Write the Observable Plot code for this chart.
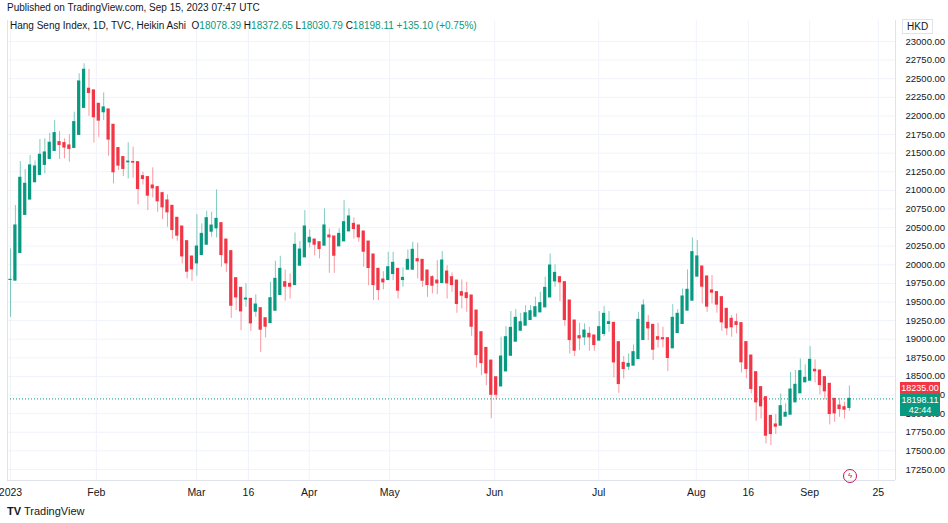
<!DOCTYPE html>
<html><head><meta charset="utf-8">
<script src="https://cdn.jsdelivr.net/npm/d3@7"></script>
<script src="https://cdn.jsdelivr.net/npm/@observablehq/plot@0.6"></script>
<style>
body{margin:0;background:#fff;font-family:"Liberation Sans",Arial,sans-serif;color:#131722}
#wrap{position:relative;width:948px;height:523px;overflow:hidden}
.abs{position:absolute;white-space:nowrap}
</style></head><body><div id="wrap"></div>
<script>
const O=[19797,19788,20160,20671,20877,21110,21208,21343,21423,21531,21647,21634,21602,21571,21746,22109,22364,22342,22162,22050,22086,21880,21567,21446,21378,21380,21378,21190,21177,21064,21042,20961,20863,20791,20630,20513,20316,20110,20020,20132,20271,20446,20491,20558,20338,20182,19819,19689,19535,19541,19371,19416,19281,19218,19384,19595,19765,19743,19729,19989,20101,20302,20338,20302,20258,20392,20379,20249,20316,20450,20549,20527,20446,20311,20137,19944,19801,19796,19877,19944,19796,19935,19935,20074,20065,19922,19832,19787,19756,19908,19832,19787,19631,19617,19586,19384,19093,18882,18712,18488,18367,18569,18779,18968,19115,19183,19259,19304,19362,19429,19563,19778,19832,19765,19519,19250,19040,19026,19071,19049,18982,19071,19206,19219,18959,18681,18632,18646,18735,18990,19219,19192,19026,19013,19013,18879,19085,19206,19385,19519,19842,19976,19842,19654,19632,19564,19407,19273,19228,19215,18960,18780,18556,18355,18220,17969,17853,17839,17960,17987,18153,18274,18422,18444,18588,18579,18489,18400,18198,18108,18086,18078];
const H=[20214,20796,21387,21280,21468,21396,21683,21692,21768,21938,21790,21692,21746,22050,22566,22700,22624,22342,22162,22310,22086,21880,21567,21446,21638,21580,21378,21244,21177,21302,21042,20975,20939,20791,20630,20513,20316,20110,20674,20549,20719,20706,21006,20558,20338,20182,19819,19689,19743,19541,19595,19416,19281,19765,20047,20114,19931,19877,20428,20312,20728,20468,20338,20302,20751,20482,20379,20482,20863,20751,20630,20527,20446,20311,20137,19944,19908,20168,20168,19944,19958,20200,20302,20289,20065,19922,19855,20056,20177,19989,19890,19787,19796,19765,19586,19384,19093,18882,18712,18488,19026,19169,19371,19398,19348,19451,19451,19563,19631,19832,20146,19998,19832,19765,19519,19250,19215,19206,19161,19049,19371,19439,19371,19219,18959,18767,18802,18923,19362,19528,19318,19192,19215,19161,19013,19465,19398,19676,19931,20361,20326,19976,19842,19855,19632,19564,19407,19318,19340,19215,18960,18780,18556,18355,18220,17969,17987,18265,18131,18556,18579,18735,18655,18901,18722,18579,18489,18400,18198,18207,18153,18373];
const L=[19295,19788,20160,20671,20877,21110,21208,21222,21423,21531,21414,21423,21378,21571,21746,22109,21997,21634,21705,21938,21459,21087,21266,21186,21154,21163,20805,21074,20729,20898,20706,20607,20504,20343,20316,20011,19810,19778,19846,20132,20271,20370,20361,19966,19899,19281,19384,19115,19429,19106,19295,18824,19017,19218,19384,19595,19510,19541,19729,19989,20101,20226,20123,20079,20258,19886,19886,20249,20316,20450,20347,20302,19966,19720,19519,19519,19662,19796,19787,19541,19698,19935,19935,19810,19698,19563,19608,19599,19756,19541,19631,19348,19407,19362,19039,18614,18511,18376,17931,18184,18367,18569,18779,18968,19115,19183,19259,19304,19362,19429,19563,19698,19505,19174,18802,18767,18847,18914,18838,18838,18982,19035,19094,18480,18274,18466,18578,18646,18735,18990,18982,18713,18883,18883,18565,18879,19085,19206,19385,19519,19842,19474,19362,19475,19349,19107,19049,19027,19071,18547,18467,18265,17898,17929,17593,17571,17718,17839,17960,17987,18153,18274,18422,18444,18413,18252,18184,17848,17884,17951,17929,18031];
const C=[19797,20527,21168,21087,21334,21320,21477,21508,21638,21768,21611,21576,21558,21916,22462,22619,22310,21983,21938,22113,21683,21244,21334,21289,21385,21374,21020,21154,20930,21028,20854,20773,20706,20468,20392,20114,19908,19940,20244,20414,20625,20526,20616,20132,20020,19451,19563,19375,19545,19214,19465,19129,19169,19550,19810,19944,19707,19707,20267,20204,20513,20361,20271,20213,20527,20370,20123,20414,20571,20648,20482,20370,20177,19958,19729,19662,19765,19966,20025,19653,19823,20065,20200,20047,19787,19729,19720,19752,20056,19752,19729,19474,19586,19554,19169,18788,18681,18542,18255,18255,18766,19026,19151,19286,19227,19348,19375,19429,19483,19689,19989,19890,19765,19259,18990,18847,19013,19116,19026,18923,19161,19340,19228,18690,18399,18601,18668,18825,19259,19452,19147,18860,18995,19000,18749,19286,19340,19573,19663,20169,20111,19707,19439,19627,19466,19228,19148,19161,19193,18691,18601,18332,18153,18099,17705,17727,17826,18099,18010,18323,18386,18570,18480,18722,18570,18386,18301,17996,18005,18063,18054,18198];
const yTicks=d3.range(17250,23001,250);
const xTickPos=[0,17.5,37.9,48.5,60.9,77.3,98.7,119.9,139.8,150.4,162.9,176.9];
const xTickLab=["2023","Feb","Mar","16","Apr","May","Jun","Jul","Aug","16","Sep","25"];

const G="#089981",R="#f23645";
const idx=d3.range(C.length);
const col=i=>C[i]>=O[i]?G:R;
const chart=Plot.plot({
  width:948,height:523,marginLeft:7,marginRight:53,marginTop:20,marginBottom:43,
  style:{fontFamily:"Liberation Sans, Arial, sans-serif",fontSize:"9.5px",color:"#131722",background:"transparent"},
  x:{domain:[-0.61,180.4],axis:null},
  y:{domain:[17102,23282],axis:null},
  marks:[
    Plot.ruleY(yTicks,{stroke:"#f0f3fa"}),
    Plot.ruleX(xTickPos,{stroke:"#f0f3fa"}),
    Plot.ruleY([C[C.length-1]],{stroke:G,strokeDasharray:"1,2",strokeWidth:1}),
    Plot.ruleX(idx,{x:i=>i,y1:i=>L[i],y2:i=>H[i],stroke:col,strokeOpacity:0.5,strokeWidth:1}),
    Plot.rect(idx,{x1:i=>i-0.33,x2:i=>i+0.33,y1:i=>Math.min(O[i],C[i])-8,y2:i=>Math.max(O[i],C[i])+8,fill:col}),
    Plot.axisY({anchor:"right",ticks:yTicks,tickFormat:d=>d.toFixed(2),tickSize:0,tickPadding:10,label:null,textAnchor:"start"}),
    Plot.axisX({ticks:xTickPos,tickFormat:d=>xTickLab[xTickPos.indexOf(d)],tickSize:0,tickPadding:8,label:null,fontSize:10.5}),
    Plot.ruleX([180.4],{stroke:"#e0e3eb"}),
    Plot.ruleY([17102],{stroke:"#e0e3eb"}),
    Plot.ruleX([-0.61],{stroke:"#e0e3eb"})
  ]
});
const w=document.getElementById("wrap");
w.appendChild(chart);
w.insertAdjacentHTML("beforeend",`
<div class="abs" style="left:7px;top:2px;font-size:10px">Published on TradingView.com, Sep 15, 2023 07:47 UTC</div>
<div class="abs" style="left:10px;top:20px;font-size:10px">Hang Seng Index, 1D, TVC, Heikin Ashi&nbsp; O<span style="color:${G}">18078.39</span> H<span style="color:${G}">18372.65</span> L<span style="color:${G}">18030.79</span> C<span style="color:${G}">18198.11</span> <span style="color:${G}">+135.10 (+0.75%)</span></div>
<div class="abs" style="left:902px;top:19px;font-size:10px;border:1px solid #e0e3eb;padding:1px 4px">HKD</div>
<div class="abs" style="left:900px;top:382px;width:40px;font-size:9px;background:${R};color:#fff;text-align:center;line-height:12px">18235.00</div>
<div class="abs" style="left:900px;top:394px;width:40px;font-size:9px;background:${G};color:#fff;text-align:center;line-height:10px;padding:1px 0">18198.11<br>42:44</div>
<div class="abs" style="left:843px;top:469px;width:12px;height:12px;border:1px solid #c2185b;border-radius:50%;font-size:8px;color:#c2185b;text-align:center;line-height:12px">ϟ</div>
<div class="abs" style="left:7px;top:505px;font-size:11px"><b>TV</b> TradingView</div>`);
</script></body></html>
